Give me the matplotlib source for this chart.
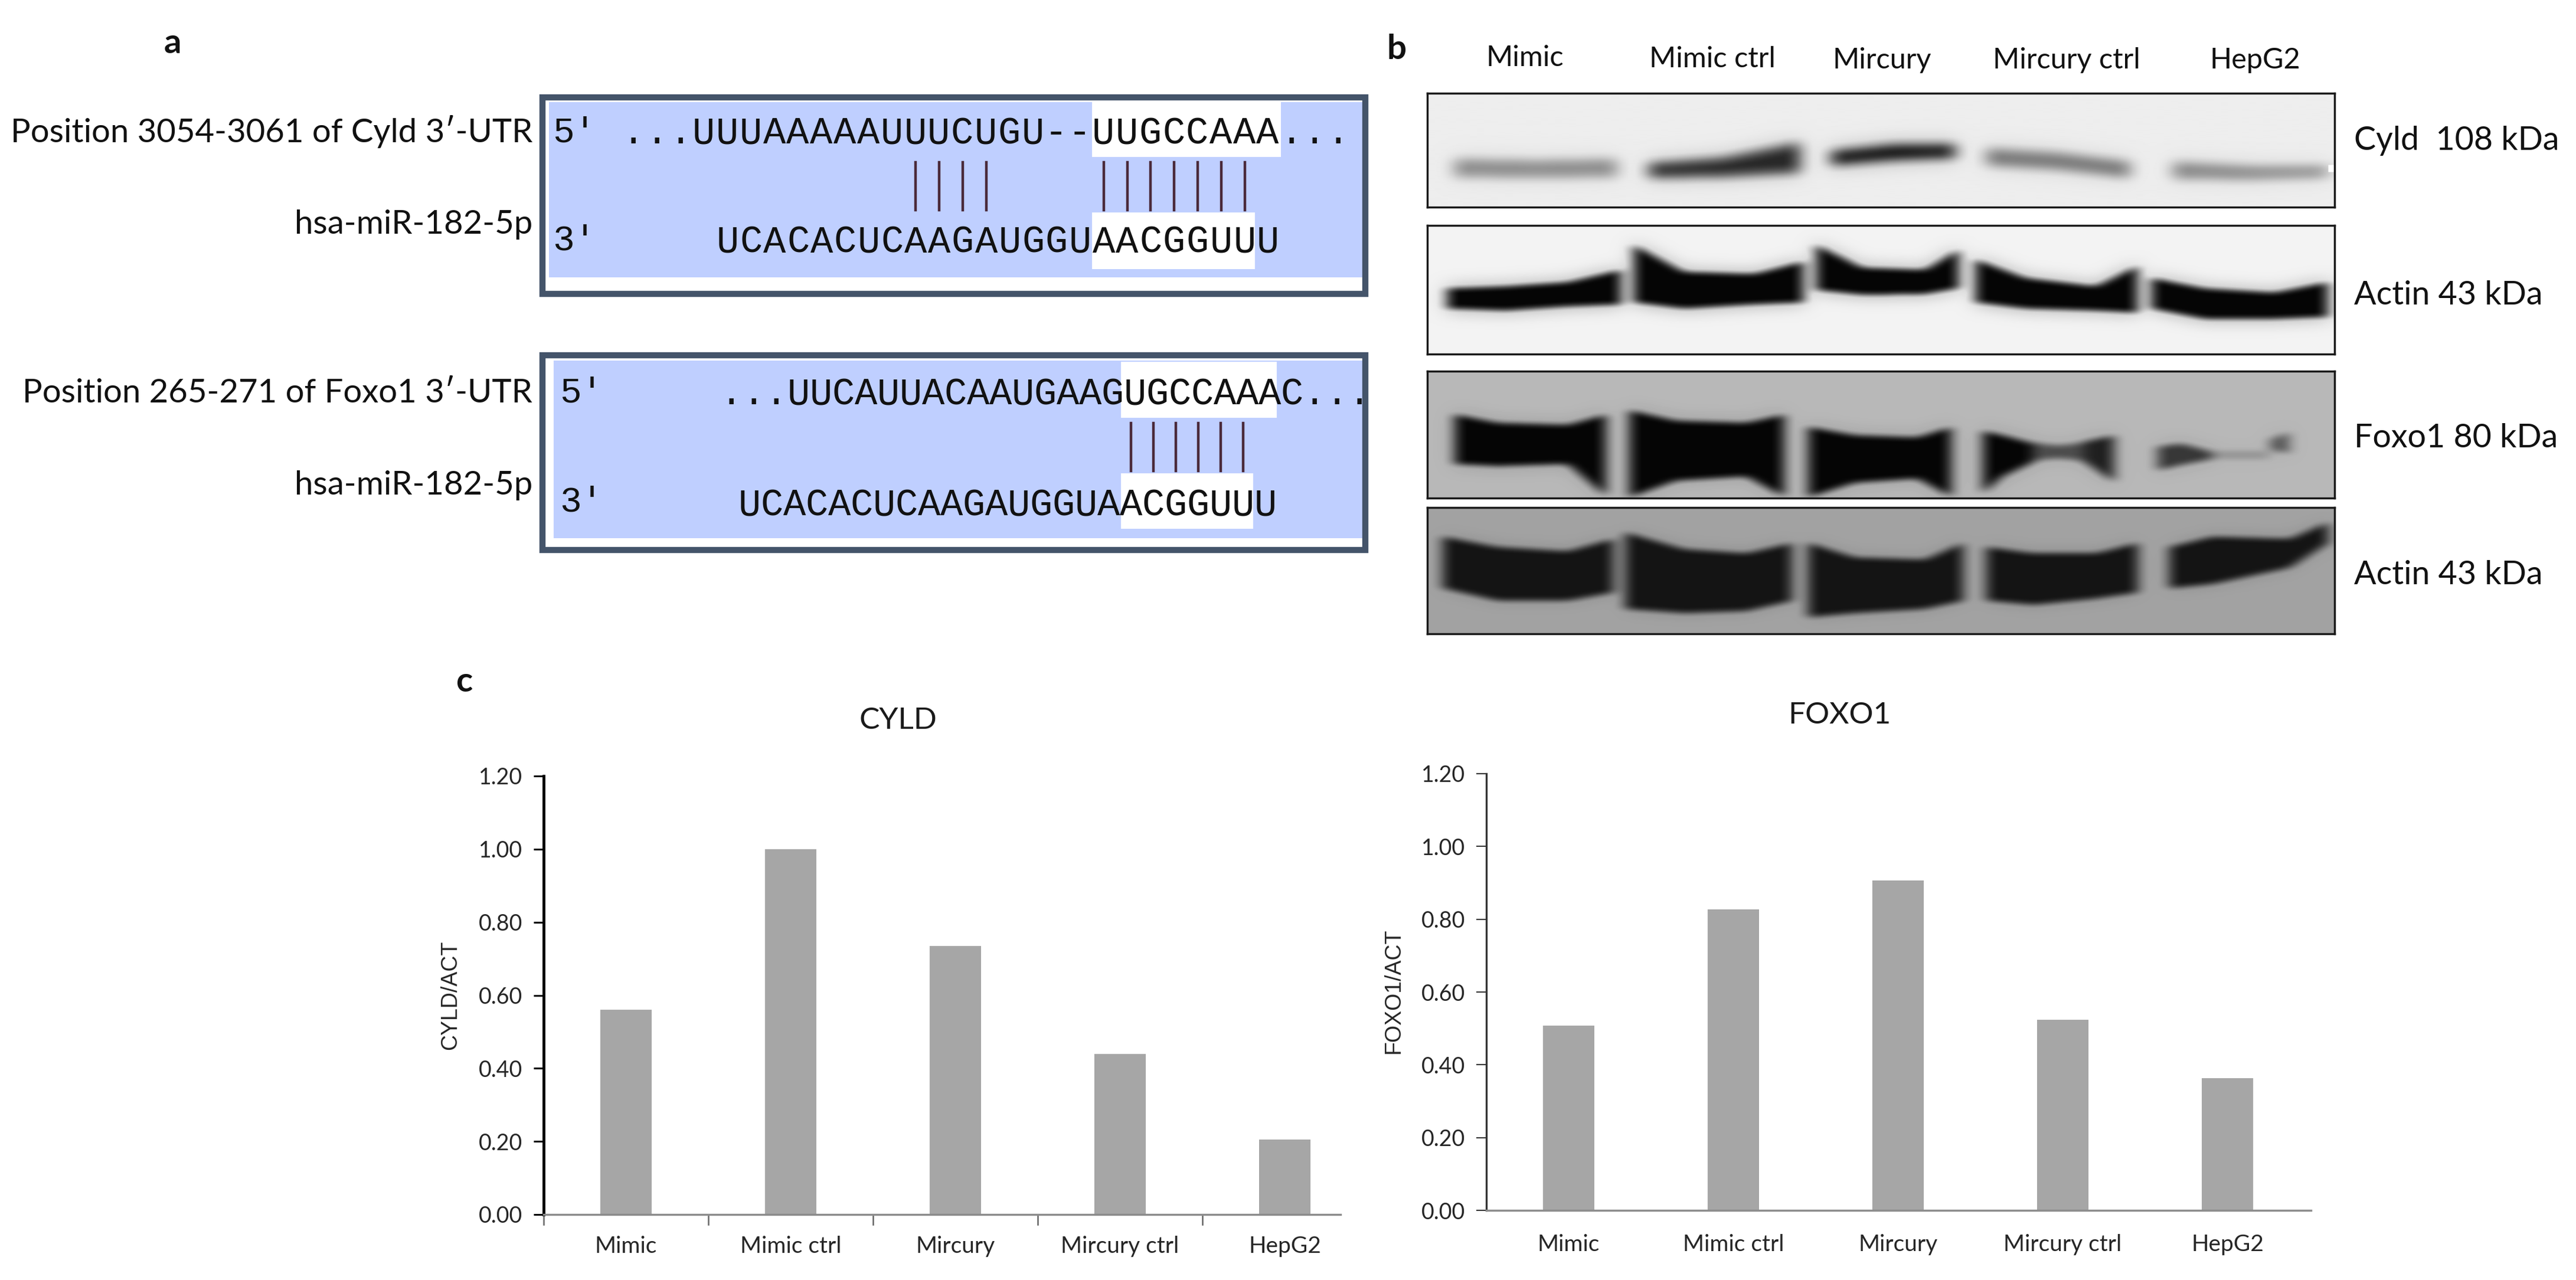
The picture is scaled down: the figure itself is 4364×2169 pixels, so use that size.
#!/usr/bin/env python3
## miR-182-5p target sites, western blots and band quantification
import numpy as np
import matplotlib
matplotlib.use('Agg')
import matplotlib.pyplot as plt
from matplotlib.patches import Rectangle

plt.rcParams['font.family'] = ['Lato', 'DejaVu Sans']

W, H = 4364, 2169
DPI = 100

## bar data
categories = ['Mimic', 'Mimic ctrl', 'Mircury', 'Mircury ctrl', 'HepG2']
cyld_values = [0.56, 1.00, 0.735, 0.44, 0.205]
foxo1_values = [0.508, 0.827, 0.906, 0.524, 0.363]
y_ticks = [0.0, 0.2, 0.4, 0.6, 0.8, 1.0, 1.2]

## sequences
cyld_site = '...UUUAAAAAUUUCUGU--UUGCCAAA...'
foxo1_site = '...UUCAUUACAAUGAAGUGCCAAAC...'
mirna = 'UCACACUCAAGAUGGUAACGGUUU'
cyld_pairs = [8, 9, 10, 11, 16, 17, 18, 19, 20, 21, 22]
foxo1_pairs = [17, 18, 19, 20, 21, 22]

## blot labels
blot_names = ['Cyld  108 kDa', 'Actin 43 kDa', 'Foxo1 80 kDa', 'Actin 43 kDa']

## band outlines, per lane: x, top edge, bottom edge, darkness (zoomed blot coords)
blot1 = [([125, 230, 335], [385, 388, 385], [428, 430, 428], 0.42),
         ([375, 470, 570], [395, 382, 345], [430, 428, 418], 0.85),
         ([610, 690, 770], [366, 350, 350], [400, 388, 382], 1.0),
         ([810, 900, 995], [360, 370, 392], [400, 410, 430], 0.52),
         ([1050, 1150, 1250], [392, 402, 402], [432, 434, 428], 0.45)]
blot2 = [([115, 190, 270, 340], [695, 690, 680, 650], [745, 750, 740, 735], 1.0),
         ([355, 420, 510, 575], [590, 655, 660, 630], [730, 745, 735, 730], 1.0),
         ([590, 650, 730, 775], [590, 645, 650, 600], [700, 712, 710, 695], 1.0),
         ([795, 860, 950, 1005], [625, 670, 690, 640], [730, 745, 750, 755], 1.0),
         ([1022, 1090, 1180, 1250], [670, 695, 705, 680], [745, 770, 770, 765], 1.0)]
blot3 = [([125, 180, 270, 320], [1000, 1020, 1025, 1000], [1120, 1125, 1120, 1198], 1.0),
         ([350, 410, 500, 550], [990, 1015, 1020, 1000], [1200, 1160, 1150, 1200], 1.0),
         ([580, 640, 720, 765], [1030, 1050, 1055, 1030], [1200, 1165, 1155, 1200], 1.0),
         ([805, 830, 870], [1040, 1050, 1070], [1190, 1150, 1115], 1.0),
         ([870, 900, 935], [1068, 1075, 1068], [1112, 1106, 1112], 0.6),
         ([935, 975], [1065, 1050], [1115, 1165], 0.85),
         ([1030, 1060, 1100], [1078, 1070, 1090], [1135, 1122, 1108], 0.72),
         ([1100, 1175], [1088, 1088], [1108, 1108], 0.2),
         ([1175, 1200], [1060, 1042], [1085, 1095], 0.55)]
blot4 = [([110, 180, 270, 330], [1295, 1320, 1330, 1300], [1420, 1450, 1450, 1430], 1.0),
         ([345, 420, 500, 560], [1285, 1325, 1335, 1310], [1470, 1480, 1475, 1450], 1.0),
         ([580, 640, 730, 780], [1310, 1345, 1350, 1310], [1490, 1480, 1470, 1450], 1.0),
         ([810, 870, 950, 1005], [1320, 1335, 1335, 1310], [1450, 1460, 1445, 1430], 1.0),
         ([1045, 1100, 1200, 1250], [1320, 1295, 1300, 1260], [1420, 1410, 1370, 1310], 1.0)]


def zx(v):
    return 2300 + v / 0.76


def zy(v):
    return v / 1.425


def blur(a, n, axis):
    kern = np.ones(n) / n
    pad = [(0, 0), (0, 0)]
    pad[axis] = (n, n)
    b = np.pad(a, pad, mode='edge')
    b = np.apply_along_axis(lambda m: np.convolve(m, kern, mode='same'), axis, b)
    return b[n:-n, :] if axis == 0 else b[:, n:-n]


def draw_blot(x0, x1, y0, y1, lanes, bg, dark_level, blur_y=11, blur_x=25, halo=0.25):
    w, h = int(x1 - x0), int(y1 - y0)
    img = np.zeros((h, w))
    yy = np.arange(h) + y0
    for xs, tops, bots, d in lanes:
        xs_px = [zx(v) for v in xs]
        col0 = int(max(xs_px[0] - x0, 0))
        col1 = int(min(xs_px[-1] - x0, w))
        for c in range(col0, col1):
            t = zy(np.interp(c + x0, xs_px, tops))
            b = zy(np.interp(c + x0, xs_px, bots))
            img[(yy >= t) & (yy <= b), c] = d
    for _ in range(2):
        img = blur(img, blur_y, 0)
        img = blur(img, blur_x, 1)
    wide = img.copy()
    for _ in range(2):
        wide = blur(wide, 31, 0)
        wide = blur(wide, 31, 1)
    img = np.maximum(img, halo * wide)
    shade = bg + (dark_level - bg) * img
    ax = fig.add_axes([x0 / W, 1 - y1 / H, (x1 - x0) / W, (y1 - y0) / H])
    ax.imshow(shade, cmap='gray', vmin=0, vmax=1, aspect='auto', interpolation='bilinear')
    ax.set_xticks([])
    ax.set_yticks([])
    for s in ax.spines.values():
        s.set_linewidth(2.5)
        s.set_color('#1a1a1a')
    return ax


def draw_bars(x0, x1, y_top, y_zero, values, title, title_x, title_y, ylabel, ylabel_x, ylabel_y,
              yaxis_color, yaxis_width, show_xticks, pad):
    ax = fig.add_axes([x0 / W, 1 - y_zero / H, (x1 - x0) / W, (y_zero - y_top) / H])
    step = 279.0
    ax.bar(np.arange(5), values, width=0.31, color='#a6a6a6')
    ax.set_xlim(-0.5, -0.5 + (x1 - x0) / step)
    ax.set_ylim(0, 1.2)
    ax.set_yticks(y_ticks)
    ax.set_yticklabels(['%.2f' % v for v in y_ticks], fontsize=27, color='#262626')
    ax.set_xticks(np.arange(5))
    ax.set_xticklabels(categories, fontsize=28, color='#262626')
    ax.tick_params(axis='x', length=0, pad=pad)
    ax.tick_params(axis='y', length=12, width=yaxis_width * 0.6, color=yaxis_color, pad=14)
    if show_xticks:
        for k in range(5):
            ax.plot([k - 0.5, k - 0.5], [0, -0.028], color='#666666', lw=1.8, clip_on=False)
    for s in ['top', 'right']:
        ax.spines[s].set_visible(False)
    ax.spines['left'].set_color(yaxis_color)
    ax.spines['left'].set_linewidth(yaxis_width)
    ax.spines['bottom'].set_color('#8c8c8c')
    ax.spines['bottom'].set_linewidth(2.5)
    ax.patch.set_alpha(0)
    page.text(title_x, title_y, title, fontsize=37, ha='center', va='center', color='#1a1a1a')
    page.text(ylabel_x, ylabel_y, ylabel, fontsize=27, rotation=90, ha='center', va='center',
              family='Liberation Sans', color='#262626')


def draw_site(box_l, box_r, box_t, box_b, fill, site, site_x, site_y, adv, mir_x, mir_y,
              pairs, pair_t, pair_b, hi_site, hi_mir, prime_x, prime_y):
    page.add_patch(Rectangle((fill[0], fill[1]), fill[2] - fill[0], fill[3] - fill[1],
                             fc='#bfcfff', ec='none', zorder=1))
    for (a, b, c, d) in (hi_site, hi_mir):
        page.add_patch(Rectangle((a, c), b - a, d - c, fc='white', ec='none', zorder=2))
    page.add_patch(Rectangle((box_l, box_t), box_r - box_l, box_b - box_t, fc='none',
                             ec='#44546a', lw=7.5, zorder=3))
    for i, ch in enumerate(site):
        page.text(site_x + (i + 0.5) * adv, site_y, ch, family='Liberation Mono', fontsize=46,
                  ha='center', va='center', color='#111111', zorder=4)
    for i, ch in enumerate(mirna):
        page.text(mir_x + (i + 0.5) * adv, mir_y, ch, family='Liberation Mono', fontsize=46,
                  ha='center', va='center', color='#111111', zorder=4)
    for i in pairs:
        xp = mir_x + (i + 0.5) * adv
        page.plot([xp, xp], [pair_t, pair_b], color='#4a2a3a', lw=3.2, zorder=4)
    page.text(prime_x, prime_y[0], "5'", family='Liberation Mono', fontsize=44, va='center',
              ha='left', color='#111111', zorder=4)
    page.text(prime_x, prime_y[1], "3'", family='Liberation Mono', fontsize=44, va='center',
              ha='left', color='#111111', zorder=4)


fig = plt.figure(figsize=(W / DPI, H / DPI), dpi=DPI, facecolor='white')
page = fig.add_axes([0, 0, 1, 1])
page.set_xlim(0, W)
page.set_ylim(H, 0)
page.axis('off')

## panel letters
page.text(292, 73, 'a', fontsize=42, fontweight='bold', ha='center', va='center', color='#111111')
page.text(2366, 84, 'b', fontsize=42, fontweight='bold', ha='center', va='center', color='#111111')
page.text(787, 1155, 'c', fontsize=42, fontweight='bold', ha='center', va='center', color='#111111')

## panel a
draw_site(919, 2313, 165, 498, (930, 173, 2308, 470), cyld_site, 1053, 226, 39.8, 1213, 411,
          cyld_pairs, 275, 356, (1850, 2170, 173, 266), (1850, 2126, 360, 456), 936, (225, 408))
draw_site(919, 2313, 602, 932, (938, 611, 2308, 912), foxo1_site, 1220, 668, 38.0, 1251, 856,
          foxo1_pairs, 717, 798, (1899, 2163, 613, 708), (1899, 2123, 802, 896), 948, (666, 851))

for txt, y in [("Position 3054-3061 of Cyld 3\u2032-UTR", 223), ('hsa-miR-182-5p', 380),
               ("Position 265-271 of Foxo1 3\u2032-UTR", 666), ('hsa-miR-182-5p', 823)]:
    page.text(902, y, txt, fontsize=40.5, ha='right', va='center', color='#111111')

## panel b
for lab, xc, yc in zip(categories, [2583, 2901, 3188, 3501, 3820], [98, 100, 102, 102, 102]):
    page.text(xc, yc, lab, fontsize=35, ha='center', va='center', color='#111111')

ax_cyld = draw_blot(2418, 3955, 158, 351, blot1, 0.93, 0.02, blur_y=21, blur_x=31, halo=0.35)
ax_cyld.plot([1532], [127], marker='s', ms=9, color='white', mec='none')
ax_cyld.set_xlim(0, 1537)
ax_cyld.set_ylim(193, 0)
draw_blot(2418, 3955, 382, 600, blot2, 0.95, 0.02, halo=0.35)
draw_blot(2418, 3955, 629, 844, blot3, 0.72, 0.02, halo=0.2)
draw_blot(2418, 3955, 860, 1074, blot4, 0.64, 0.08, halo=0.2)

for lab, y in zip(blot_names, [239, 500, 742, 975]):
    page.text(3988, y, lab, fontsize=40, ha='left', va='center', color='#111111')

## panel c
draw_bars(921, 2271, 1315, 2058, cyld_values, 'CYLD', 1521, 1221, 'CYLD/ACT', 763, 1686,
          '#000000', 3.6, True, 26)
draw_bars(2518, 3915, 1311, 2051, foxo1_values, 'FOXO1', 3116, 1212, 'FOXO1/ACT', 2361, 1679,
          '#333333', 2.4, False, 29)

fig.savefig('out.png', dpi=DPI)
